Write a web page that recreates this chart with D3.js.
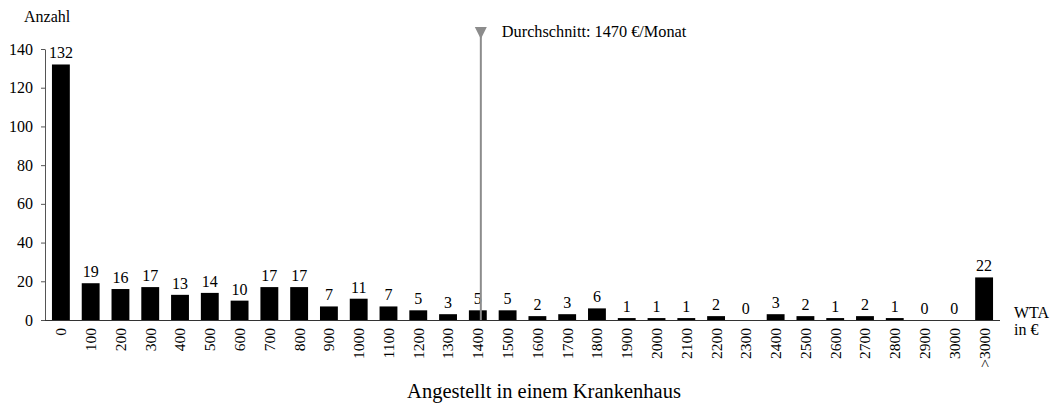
<!DOCTYPE html>
<html><head><meta charset="utf-8">
<script src="https://cdn.jsdelivr.net/npm/d3@7"></script>
<style>body{margin:0;background:#fff}svg{display:block}text{font-family:"Liberation Serif","Times New Roman",serif !important;fill:#000}</style>
</head><body><svg id="c" width="1053" height="405"></svg>
<script>
const categories = ["0","100","200","300","400","500","600","700","800","900","1000","1100","1200","1300","1400","1500","1600","1700","1800","1900","2000","2100","2200","2300","2400","2500","2600","2700","2800","2900","3000",">3000"];
const counts = [132,19,16,17,13,14,10,17,17,7,11,7,5,3,5,5,2,3,6,1,1,1,2,0,3,2,1,2,1,0,0,22];
const yTicks = [0,20,40,60,80,100,120,140];
const meanLabel = "Durchschnitt: 1470 €/Monat";
const meanCategory = "1400";

const svg = d3.select("#c");
const serif = '"Liberation Serif","Times New Roman",serif';
const x = d3.scaleBand().domain(categories).range([46, 999]).paddingInner(0.4).paddingOuter(0.2);
const y = d3.scaleLinear().domain([0, 140]).range([320, 49]);

// y axis
const ya = svg.append("g").attr("transform","translate(45,0)")
  .call(d3.axisLeft(y).tickValues(yTicks).tickSize(4).tickSizeOuter(0).tickPadding(8));
ya.attr("font-family", null);
ya.select(".domain").attr("stroke","#555");
ya.selectAll(".tick line").attr("stroke","#555");
ya.selectAll(".tick text").style("font-size","16px").style("font-family",serif);

// bars
svg.append("g").selectAll("rect").data(counts).join("rect")
  .attr("x",(d,i)=>x(categories[i])).attr("width",x.bandwidth())
  .attr("y",d=>y(d)).attr("height",d=>y(0)-y(d)).attr("fill","#000");

// value labels
svg.append("g").selectAll("text").data(counts).join("text")
  .attr("x",(d,i)=>x(categories[i])+x.bandwidth()/2).attr("y",d=>y(d)-6)
  .attr("text-anchor","middle").style("font-size","16px").style("font-family",serif).text(d=>d);

// x axis
const xa = svg.append("g").attr("transform","translate(0,320)")
  .call(d3.axisBottom(x).tickSize(0).tickSizeOuter(0).tickPadding(0));
xa.attr("font-family", null);
xa.select(".domain").attr("stroke","#333").attr("d","M45,0.5H1000");
xa.selectAll(".tick text").style("font-size","15.5px").style("font-family",serif)
  .attr("transform","rotate(-90)").attr("text-anchor","end").attr("dx","-8px").attr("dy","0.35em").attr("x",0).attr("y",0);

// mean line
const mx = x(meanCategory) + x.bandwidth()/2 + 3;
svg.append("line").attr("x1",mx).attr("x2",mx).attr("y1",36).attr("y2",320).attr("stroke","#8c8c8c").attr("stroke-width",2);
svg.append("path").attr("d",`M${mx-6},27L${mx+6},27L${mx},39Z`).attr("fill","#8c8c8c");
svg.append("text").attr("x",mx+21).attr("y",37).style("font-size","16.3px").style("font-family",serif).text(meanLabel);

// labels
svg.append("text").attr("x",24).attr("y",22).style("font-size","16px").style("font-family",serif).text("Anzahl");
svg.append("text").attr("x",1014).attr("y",318).style("font-size","16px").style("font-family",serif).text("WTA");
svg.append("text").attr("x",1014).attr("y",335).style("font-size","16px").style("font-family",serif).text("in €");
svg.append("text").attr("x",544).attr("y",398).attr("text-anchor","middle").style("font-size","20.5px").style("font-family",serif).text("Angestellt in einem Krankenhaus");
</script></body></html>
